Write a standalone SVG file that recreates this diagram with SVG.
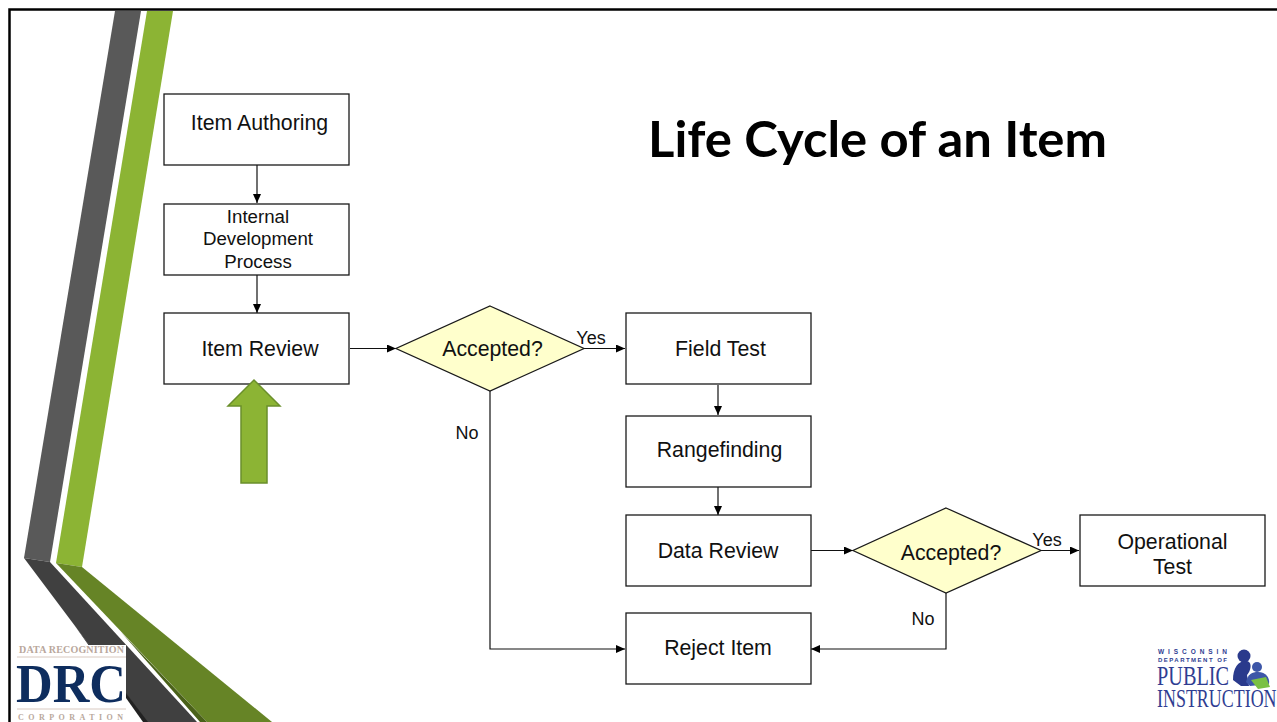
<svg xmlns="http://www.w3.org/2000/svg" width="1277" height="722" viewBox="0 0 1277 722">
<style>
.b{fill:#fff;stroke:#1a1a1a;stroke-width:1.3}
.d{fill:#ffffcc;stroke:#1a1a1a;stroke-width:1.3}
.t{font-family:"Liberation Sans",Arial,sans-serif;font-size:21.3px;fill:#111;text-anchor:middle}
.s{font-size:18.7px}
.l{font-size:18px}
.c{fill:none;stroke:#111;stroke-width:1.2;marker-end:url(#a)}
</style>
<defs><marker id="a" markerUnits="userSpaceOnUse" markerWidth="9" markerHeight="8" refX="9" refY="4" orient="auto"><path d="M0 0L9 4L0 8Z" fill="#000"/></marker></defs>
<rect width="1277" height="722" fill="#fff"/>
<path d="M9.500 722V9.500H1277" fill="none" stroke="#000" stroke-width="2.500"/>
<g id="decor">
<path d="M115 11H141L50 562L24 558Z" fill="#595959"/>
<path d="M147 11H173L82 567L56 563Z" fill="#8cb434"/>
<path d="M24 558L50 562L197 722H147Z" fill="#404040"/>
<path d="M56 563L82 567L272 722H207Z" fill="#668426"/>
<path d="M75 626L148 722H143Z" fill="#222"/>
<path d="M121 632L207 722H200Z" fill="#4a6119"/>
</g>
<g id="logo-drc">
<rect x="16" y="645" width="110" height="77" fill="#fff"/>
<text x="19" y="653" font-family="Liberation Serif,serif" font-weight="700" font-size="10" textLength="105" fill="#b9a79c">DATA RECOGNITION</text>
<path d="M17 657H126M17 709H126" stroke="#d8c9c0"/>
<text x="16" y="702" font-family="Liberation Serif,serif" font-weight="700" font-size="54" textLength="110" lengthAdjust="spacingAndGlyphs" fill="#0e2d5e">DRC</text>
<text x="18" y="720" font-family="Liberation Serif,serif" font-weight="700" font-size="8" textLength="105" fill="#b9a79c">CORPORATION</text>
</g>
<g id="logo-dpi">
<text x="1158" y="654" font-family="Liberation Sans,sans-serif" font-weight="700" font-size="6.500" textLength="69" fill="#2f3d92">WISCONSIN</text>
<text x="1158" y="662" font-family="Liberation Sans,sans-serif" font-weight="700" font-size="6" textLength="69" fill="#2f3d92">DEPARTMENT OF</text>
<text transform="translate(1157 685) scale(.75 1)" font-family="Liberation Serif,serif" font-size="27" fill="#2f3d92">PUBLIC</text>
<text transform="translate(1157 707) scale(.69 1)" font-family="Liberation Serif,serif" font-size="26" fill="#2f3d92">INSTRUCTION</text>
<circle cx="1244" cy="656" r="6.500" fill="#2a3a8c"/>
<path d="M1233 680C1233 668 1238 661 1246 661C1253 661 1251 671 1247 675L1249 686L1241 686Z" fill="#2a3a8c"/>
<circle cx="1257" cy="667" r="5" fill="#3d56a8"/>
<path d="M1246 682C1248 674 1252 672 1258 672C1266 672 1270 678 1269 684L1250 686Z" fill="#3d56a8"/>
<path d="M1251 680L1266 677L1270 687L1258 689Z" fill="#7ac143"/>
</g>
<g id="connectors">
<path class="c" d="M257 165V203"/>
<path class="c" d="M257 275V313"/>
<path class="c" d="M350 348.500H396"/>
<path class="c" d="M584 348.500H625"/>
<path class="c" d="M490 391V649H625"/>
<path class="c" d="M718 385V415"/>
<path class="c" d="M718 487V515"/>
<path class="c" d="M811 550.500H853"/>
<path class="c" d="M1041 550.500H1079"/>
<path class="c" d="M946 593V649H811"/>
</g>
<g id="n1"><rect class="b" x="164" y="94" width="185" height="71"/><text class="t" x="259.500" y="130">Item Authoring</text></g>
<g id="n2"><rect class="b" x="164" y="204" width="185" height="71"/><text class="t s" x="258" y="223">Internal</text><text class="t s" x="258" y="245">Development</text><text class="t s" x="258" y="268">Process</text></g>
<g id="n3"><rect class="b" x="164" y="313" width="185" height="71"/><text class="t" x="260" y="356">Item Review</text></g>
<g id="d1"><path class="d" d="M490 306L584 348.500L490 391L396 348.500Z"/><text class="t" x="492.500" y="356">Accepted?</text></g>
<g id="n4"><rect class="b" x="626" y="313" width="185" height="71"/><text class="t" x="720.500" y="356">Field Test</text></g>
<g id="n5"><rect class="b" x="626" y="416" width="185" height="71"/><text class="t" x="719.500" y="457">Rangefinding</text></g>
<g id="n6"><rect class="b" x="626" y="515" width="185" height="71"/><text class="t" x="718" y="558">Data Review</text></g>
<g id="d2"><path class="d" d="M946 508L1041 550.500L946 593L853 550.500Z"/><text class="t" x="951" y="560">Accepted?</text></g>
<g id="n7"><rect class="b" x="1080" y="515" width="185" height="71"/><text class="t" x="1172.500" y="549">Operational</text><text class="t" x="1172.500" y="574">Test</text></g>
<g id="n8"><rect class="b" x="626" y="613" width="185" height="71"/><text class="t" x="718" y="655">Reject Item</text></g>
<g id="labels">
<text class="t l" x="591" y="344">Yes</text><text class="t l" x="467" y="439">No</text>
<text class="t l" x="1047" y="546">Yes</text><text class="t l" x="923" y="625">No</text>
</g>
<g id="arrow"><path d="M241 483V406H228L254 380L280 406H267V483Z" fill="#8cb434" stroke="#6a8f2b" stroke-width="1.500"/></g>
<text id="title" x="648" y="157" font-family="Lato,Open Sans,sans-serif" font-weight="700" font-size="50" textLength="459" lengthAdjust="spacingAndGlyphs" fill="#000">Life Cycle of an Item</text>
</svg>
